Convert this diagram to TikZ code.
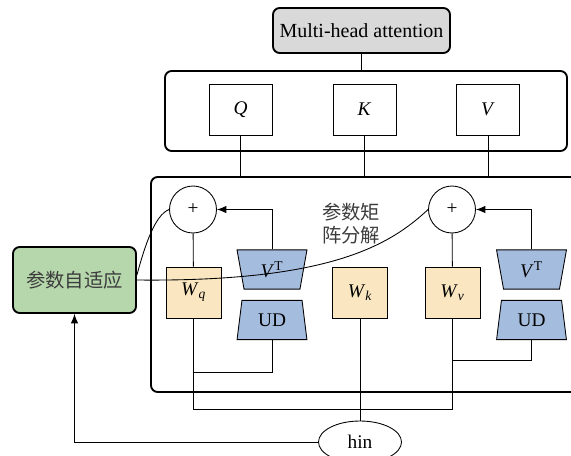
\documentclass[tikz,border=0pt]{standalone}
\usepackage{fontspec}
\setmainfont{Liberation Serif}
\newfontfamily\cjk{Noto Sans CJK SC}
\usetikzlibrary{arrows.meta,shapes.geometric}
\definecolor{adaptgreen}{HTML}{B6D7AC}
\definecolor{wyellow}{HTML}{FAE7C2}
\definecolor{factblue}{HTML}{A4BCDE}
\definecolor{headgray}{HTML}{D9D9D9}
\definecolor{labelgray}{HTML}{3C3C3C}

\begin{document}
\begin{tikzpicture}[x=0.75pt, y=-0.75pt, >={Latex[length=7pt,width=5.5pt]}, line width=0.65pt,
  every node/.style={font=\fontsize{14.5}{17.25}\selectfont, inner sep=0pt},
  frame/.style={draw, line width=1.4pt, rounded corners=5pt},
  cell/.style={draw, line width=0.65pt, minimum width=47.25pt, minimum height=38.25pt},
  wbox/.style={draw, line width=0.65pt, fill=wyellow, minimum width=41.25pt, minimum height=38.25pt},
  sumnode/.style={draw, circle, line width=0.65pt, minimum size=35.25pt},
  fact/.style={draw, trapezium, trapezium stretches=true, fill=factblue, line width=0.65pt,
    minimum width=52.5pt, minimum height=29.5pt}]
  \useasboundingbox (0,0) rectangle (571,455);
  % attention head and projections
  \node[frame, fill=headgray, minimum width=132.75pt, minimum height=33.75pt,
    font=\fontsize{15}{18}\selectfont] (mha) at (361.5,30.5) {Multi-head attention};
  \node[frame, minimum width=301.5pt, minimum height=60pt] (qkv) at (366,111) {};
  \node[cell] (q) at (240.5,109.5) {\textit{Q}};
  \node[cell] (k) at (364.5,109.5) {\textit{K}};
  \node[cell] (v) at (488,109.5) {\textit{V}};
  \node[frame, minimum width=329.25pt, minimum height=161.25pt] (low) at (370.5,284.5) {};
  % weights and factorised updates
  \node[sumnode] (sum1) at (193,209.5) {+};
  \node[sumnode] (sum2) at (452,209.5) {+};
  \node[wbox] (wq) at (193.5,292.5) {\textit{W}\textsubscript{\textit{q}}};
  \node[wbox] (wk) at (360,292.5) {\textit{W}\textsubscript{\textit{k}}};
  \node[wbox] (wv) at (452.5,292.5) {\textit{W}\textsubscript{\textit{v}}};
  \node[fact, trapezium angle=100] (vt1) at (272,269.5) {\textit{V}\textsuperscript{T}};
  \node[fact, trapezium angle=80] (ud1) at (272,320) {UD};
  \node[fact, trapezium angle=100] (vt2) at (531.5,269.5) {\textit{V}\textsuperscript{T}};
  \node[fact, trapezium angle=80] (ud2) at (531.5,320) {UD};
  \node[font=\cjk\fontsize{14.5}{17.25}\selectfont, text=labelgray, align=left] (decomp) at (351,223.5) {参数矩\\阵分解};
  \node[draw, line width=1.4pt, rounded corners=5pt, fill=adaptgreen, text=labelgray,
    font=\cjk\fontsize{14.5}{17.25}\selectfont, minimum width=92.25pt, minimum height=49.5pt] (adapt) at (74.5,280) {参数自适应};
  \node[draw, ellipse, line width=0.65pt, minimum width=62.25pt, minimum height=31.5pt] (hin) at (360,442) {hin};
  \coordinate (jq) at (193,372);
  \coordinate (jbot) at (300,409);
  \coordinate (jv) at (452,360);
  % connectors
  \draw (mha.south) -- (mha.south |- qkv.north);
  \foreach \n in {q,k,v}
    \draw (\n.south) -- (\n.south |- low.north);
  \draw (sum1) -- (wq);
  \draw (sum2) -- (wv);
  \draw[->] (vt1.north) |- (sum1.east);
  \draw[->] (vt2.north) |- (sum2.east);
  \draw (ud1.south) |- (jq);
  \draw (ud2.south) |- (jv);
  \draw (wq.south) |- (jbot) -| (wv.south);
  \draw (wk.south) -- (hin.north);
  \draw[->] (hin.west) -| (adapt.south);
  \draw ([yshift=3.75pt]adapt.east) .. controls (145,245) and (155,215) .. (sum1.west);
  \draw (adapt.east) .. controls (330,282) and (390,245) .. (sum2.west);
\end{tikzpicture}
\end{document}
